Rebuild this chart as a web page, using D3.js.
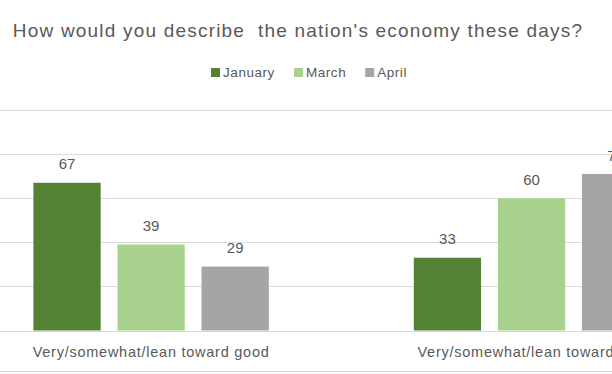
<!DOCTYPE html>
<html>
<head>
<meta charset="utf-8">
<script src="https://cdn.jsdelivr.net/npm/d3@7"></script>
<style>
  html, body { margin: 0; padding: 0; background: #fff; }
  svg { display: block; }
  text { font-family: "Liberation Sans", Arial, sans-serif; fill: #595959; white-space: pre; }
</style>
</head>
<body>
<svg id="chart" width="612" height="374"></svg>
<script>
const title = "How would you describe  the nation's economy these days?";
const categories = ["Very/somewhat/lean toward good", "Very/somewhat/lean toward bad"];
const seriesNames = ["January", "March", "April"];
const january = [67, 33];
const march = [39, 60];
const april = [29, 71];
const seriesValues = [january, march, april];
const colors = ["#548235", "#a9d18e", "#a5a5a5"];
const yTicks = [0, 20, 40, 60, 80, 100];

const svg = d3.select("#chart");
const W = 612, H = 374;

const y = d3.scaleLinear().domain([0, 100]).range([330.5, 110]);
const x0 = d3.scaleBand().domain(categories).range([-39.1, 721.7]).padding(0);
const x1 = d3.scaleBand().domain(seriesNames)
  .range([72.5, x0.bandwidth() - 72.5]).paddingInner(0.2).paddingOuter(0);

// gridlines
svg.append("g").selectAll("line").data(yTicks).join("line")
  .attr("x1", 0).attr("x2", W)
  .attr("y1", d => Math.round(y(d)) + 0.5).attr("y2", d => Math.round(y(d)) + 0.5)
  .attr("stroke", "#d9d9d9").attr("stroke-width", 1);

// chart border bottom
svg.append("line").attr("x1", 0).attr("x2", W).attr("y1", 371.5).attr("y2", 371.5)
  .attr("stroke", "#d9d9d9").attr("stroke-width", 1);

// bars
const groups = svg.append("g").selectAll("g").data(categories).join("g")
  .attr("transform", d => `translate(${x0(d)},0)`);

groups.each(function(cat, ci) {
  const g = d3.select(this);
  seriesNames.forEach((s, si) => {
    const v = seriesValues[si][ci];
    g.append("rect")
      .attr("x", x1(s)).attr("width", x1.bandwidth())
      .attr("y", y(v)).attr("height", y(0) - y(v))
      .attr("fill", colors[si]);
    g.append("text")
      .attr("x", x1(s) + x1.bandwidth() / 2)
      .attr("y", y(v) - 13.4)
      .attr("text-anchor", "middle")
      .attr("font-size", 15)
      .text(v);
  });
  g.append("text")
    .attr("x", x0.bandwidth() / 2)
    .attr("y", 356.7)
    .attr("text-anchor", "middle")
    .attr("font-size", 14.5)
    .attr("letter-spacing", 0.75)
    .text(cat);
});

// title
svg.append("text")
  .attr("x", 298).attr("y", 37.3)
  .attr("text-anchor", "middle")
  .attr("font-size", 19)
  .attr("letter-spacing", 1.2)
  .text(title);

// legend
const legend = svg.append("g");
let lx = 0;
seriesNames.forEach((s, i) => {
  const item = legend.append("g").attr("transform", `translate(${lx},0)`);
  item.append("rect").attr("x", 0).attr("y", 68).attr("width", 9).attr("height", 9).attr("fill", colors[i]);
  const t = item.append("text").attr("x", 12).attr("y", 77.3).attr("font-size", 13.5)
    .attr("letter-spacing", 0.55).text(s);
  lx += 12 + t.node().getComputedTextLength() + 19;
});
const legW = lx - 19;
legend.attr("transform", `translate(${309 - legW / 2},0)`);
</script>
</body>
</html>
